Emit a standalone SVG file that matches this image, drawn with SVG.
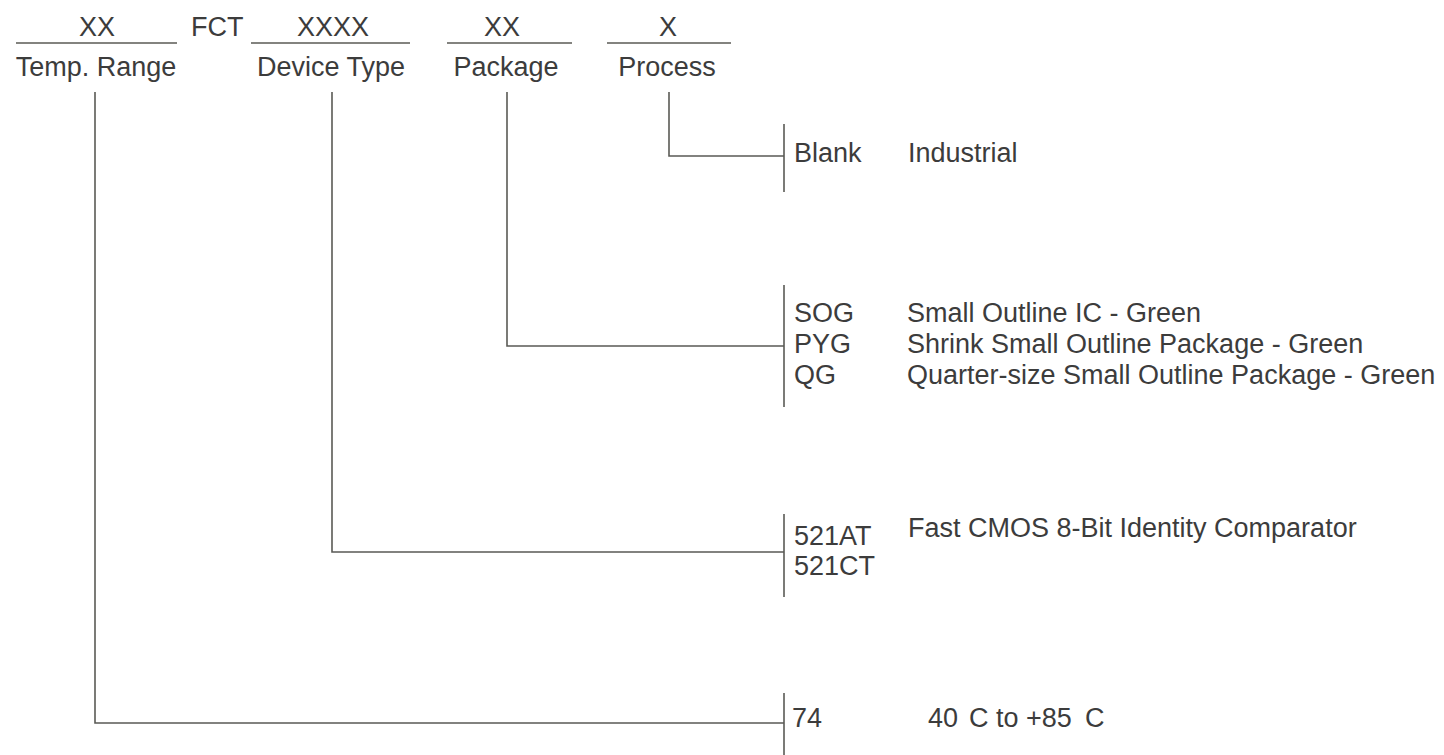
<svg xmlns="http://www.w3.org/2000/svg" width="1444" height="755" viewBox="0 0 1444 755">
<style>
text{font-family:"Liberation Sans",Arial,sans-serif;font-size:27px;fill:#3c3c3c}
.m{text-anchor:middle}
line,polyline{stroke:#5a5a55;stroke-width:1.6;fill:none}
</style>
<rect width="1444" height="755" fill="#fff"/>
<g id="header">
<g id="temp-field"><text class="m" x="97" y="36">XX</text><line x1="16" y1="43" x2="177" y2="43"/><text class="m" x="96" y="76">Temp. Range</text></g>
<g id="fct"><text x="191" y="36">FCT</text></g>
<g id="device-field"><text class="m" x="333" y="36">XXXX</text><line x1="251" y1="43" x2="410" y2="43"/><text class="m" x="331" y="76">Device Type</text></g>
<g id="package-field"><text class="m" x="502" y="36">XX</text><line x1="447" y1="43" x2="572" y2="43"/><text class="m" x="506" y="76">Package</text></g>
<g id="process-field"><text class="m" x="668" y="36">X</text><line x1="607" y1="43" x2="731" y2="43"/><text class="m" x="667" y="76">Process</text></g>
</g>
<g id="connectors">
<polyline points="669,92 669,156 784,156"/>
<polyline points="507,92 507,346 784,346"/>
<polyline points="332,92 332,552 784,552"/>
<polyline points="95,92 95,723 784,723"/>
<line x1="784" y1="124" x2="784" y2="192"/>
<line x1="784" y1="285" x2="784" y2="407"/>
<line x1="784" y1="514" x2="784" y2="597"/>
<line x1="784" y1="693" x2="784" y2="755"/>
</g>
<g id="process-options"><text x="794" y="162">Blank</text><text x="908" y="162">Industrial</text></g>
<g id="package-options">
<text x="794" y="322">SOG</text><text x="907" y="322">Small Outline IC - Green</text>
<text x="794" y="353">PYG</text><text x="907" y="353">Shrink Small Outline Package - Green</text>
<text x="794" y="384">QG</text><text x="907" y="384">Quarter-size Small Outline Package - Green</text>
</g>
<g id="device-options">
<text x="794" y="545">521AT</text><text x="794" y="575">521CT</text>
<text x="908" y="537">Fast CMOS 8-Bit Identity Comparator</text>
</g>
<g id="temp-options">
<text x="792" y="727">74</text>
<text x="928" y="727">40</text><text x="969" y="727">C to +85</text><text x="1085" y="727">C</text>
</g>
</svg>
